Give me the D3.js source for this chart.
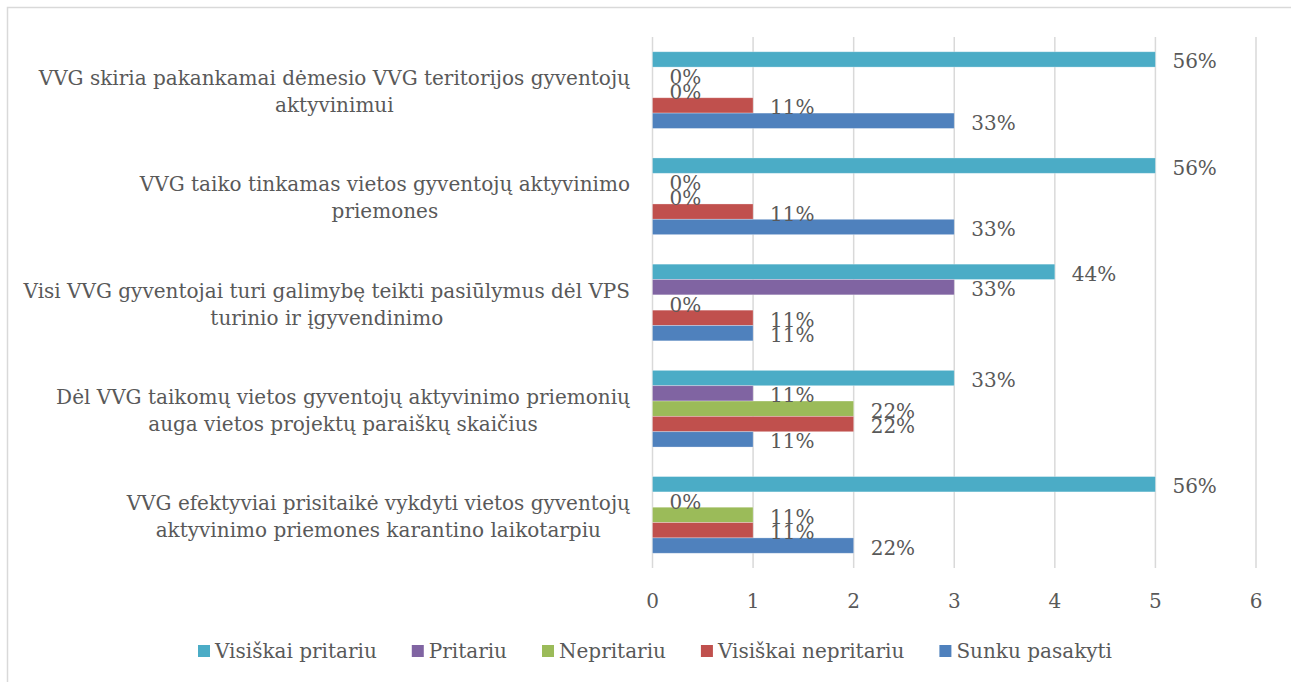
<!DOCTYPE html>
<html><head><meta charset="utf-8">
<script src="https://cdn.jsdelivr.net/npm/d3@7"></script>
<style>
html,body{margin:0;padding:0;background:#fff;}
svg{display:block;}
text{font-family:"DejaVu Serif","Liberation Serif",serif;fill:#595959;}
</style></head>
<body>
<svg id="chart" width="1291" height="682"></svg>
<script>
const categories = [
  ["VVG skiria pakankamai dėmesio VVG teritorijos gyventojų", "aktyvinimui"],
  ["VVG taiko tinkamas vietos gyventojų aktyvinimo", "priemones"],
  ["Visi VVG gyventojai turi galimybę teikti pasiūlymus dėl VPS", "turinio ir įgyvendinimo"],
  ["Dėl VVG taikomų vietos gyventojų aktyvinimo priemonių", "auga vietos projektų paraiškų skaičius"],
  ["VVG efektyviai prisitaikė vykdyti vietos gyventojų", "aktyvinimo priemones karantino laikotarpiu"]
];
const seriesNames = ["Visiškai pritariu", "Pritariu", "Nepritariu", "Visiškai nepritariu", "Sunku pasakyti"];
const seriesColors = ["#4BACC6", "#8064A2", "#9BBB59", "#C0504D", "#4F81BD"];
// counts per category, one array per series
const visiskaiPritariu   = [5, 5, 4, 3, 5];
const pritariu           = [0, 0, 3, 1, 0];
const nepritariu         = [0, 0, 0, 2, 1];
const visiskaiNepritariu = [1, 1, 1, 2, 1];
const sunkuPasakyti      = [3, 3, 1, 1, 2];
// percentage labels
const lblVisiskaiPritariu   = ["56%", "56%", "44%", "33%", "56%"];
const lblPritariu           = ["0%", "0%", "33%", "11%", "0%"];
const lblNepritariu         = ["0%", "0%", "0%", "22%", "11%"];
const lblVisiskaiNepritariu = ["11%", "11%", "11%", "22%", "11%"];
const lblSunkuPasakyti      = ["33%", "33%", "11%", "11%", "22%"];
const xTicks = [0, 1, 2, 3, 4, 5, 6];

const seriesValues = [visiskaiPritariu, pritariu, nepritariu, visiskaiNepritariu, sunkuPasakyti];
const seriesLabels = [lblVisiskaiPritariu, lblPritariu, lblNepritariu, lblVisiskaiNepritariu, lblSunkuPasakyti];

const svg = d3.select("#chart");
const FS = 20;

// outer frame
svg.append("rect").attr("x", 7.5).attr("y", 7.5).attr("width", 1300).attr("height", 700)
  .attr("fill", "none").attr("stroke", "#d9d9d9").attr("stroke-width", 1.5);

const x = d3.scaleLinear().domain([0, 6]).range([652.5, 1256]);
const catIdx = categories.map((d, i) => i);
const y = d3.scaleBand().domain(catIdx).range([37, 568]).paddingInner(0.278).paddingOuter(0.139);
const yInner = d3.scaleBand().domain(seriesNames.map((d, i) => i)).range([0, y.bandwidth()]);

// gridlines
svg.append("g").selectAll("line").data(xTicks).join("line")
  .attr("x1", d => x(d)).attr("x2", d => x(d))
  .attr("y1", 37).attr("y2", 568)
  .attr("stroke", "#d9d9d9").attr("stroke-width", 1.5);

// tick labels
svg.append("g").selectAll("text").data(xTicks).join("text")
  .attr("x", d => x(d)).attr("y", 608)
  .attr("text-anchor", "middle").attr("font-size", FS)
  .text(d => d);

// bars
const flat = [];
categories.forEach((c, ci) => {
  seriesNames.forEach((s, si) => {
    flat.push({ci, si, v: seriesValues[si][ci], lbl: seriesLabels[si][ci]});
  });
});
svg.append("g").selectAll("rect").data(flat.filter(d => d.v > 0)).join("rect")
  .attr("x", x(0))
  .attr("y", d => y(d.ci) + yInner(d.si))
  .attr("width", d => x(d.v) - x(0))
  .attr("height", yInner.bandwidth())
  .attr("fill", d => seriesColors[d.si])
  .attr("stroke", "#ffffff").attr("stroke-opacity", 0.35).attr("stroke-width", 0.8);

// data labels
svg.append("g").selectAll("text").data(flat).join("text")
  .attr("x", d => x(d.v) + 17)
  .attr("y", d => y(d.ci) + yInner(d.si) + yInner.bandwidth() / 2 + 9)
  .attr("font-size", FS)
  .text(d => d.lbl);

// category labels
const catG = svg.append("g");
categories.forEach((lines, ci) => {
  const g = catG.append("g");
  const cy = y(ci) + y.bandwidth() / 2;
  const ts = lines.map((ln, li) => g.append("text")
    .attr("font-size", FS)
    .attr("y", cy - 5 + li * 27)
    .text(ln));
  const widths = ts.map(t => t.node().getComputedTextLength());
  const maxW = d3.max(widths);
  const center = 630 - maxW / 2;
  ts.forEach(t => t.attr("x", center).attr("text-anchor", "middle"));
});

// legend
const leg = svg.append("g");
const items = seriesNames.map((name, i) => {
  const g = leg.append("g");
  g.append("rect").attr("x", 0).attr("y", -13).attr("width", 12).attr("height", 12).attr("fill", seriesColors[i]);
  const t = g.append("text").attr("x", 17).attr("y", 0).attr("font-size", FS).text(name);
  return {g, w: 17 + t.node().getComputedTextLength()};
});
const gap = 35;
const total = d3.sum(items, d => d.w) + gap * (items.length - 1);
let cx = 655 - total / 2;
items.forEach(it => {
  it.g.attr("transform", `translate(${cx},658)`);
  cx += it.w + gap;
});
</script>
</body></html>
